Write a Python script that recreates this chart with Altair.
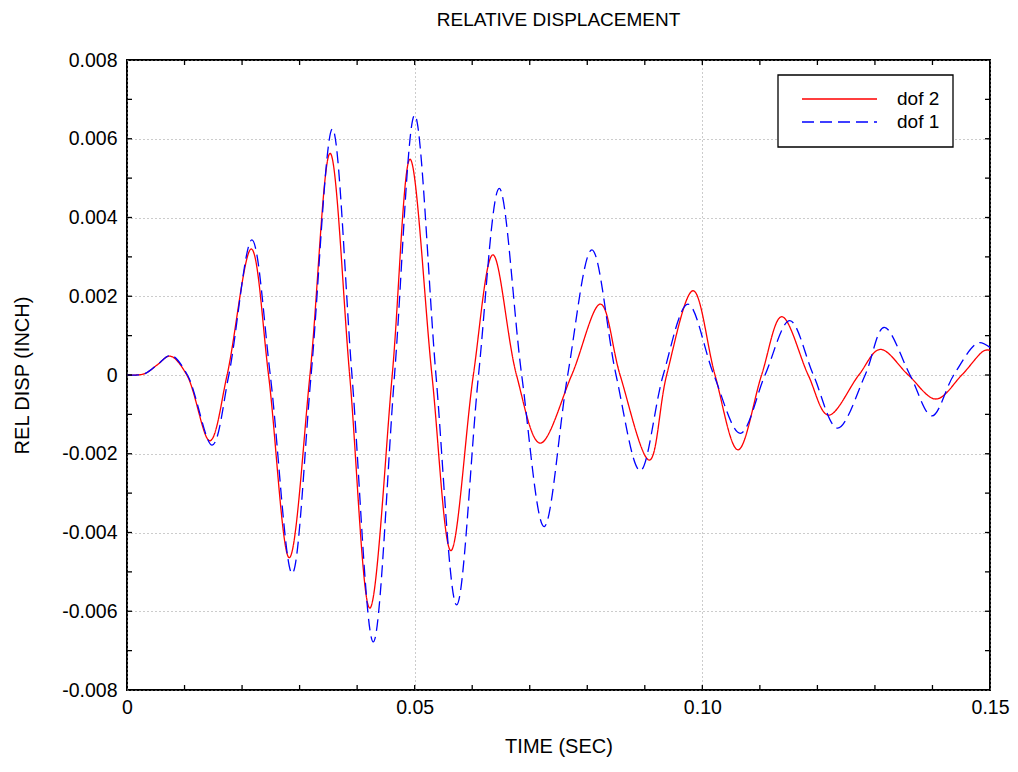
import altair as alt
import pandas as pd

# ---- data ----
t_dof2 = [0.0, 0.003, 0.0052, 0.0075, 0.0104, 0.0144, 0.0174, 0.0216, 0.0246, 0.0282,
          0.0318, 0.0353, 0.0387, 0.0422, 0.0461, 0.0492, 0.0530, 0.0563, 0.0602, 0.0636,
          0.0677, 0.0718, 0.0773, 0.0823, 0.0857, 0.0908, 0.0938, 0.0984, 0.1022, 0.1062,
          0.1103, 0.1138, 0.1184, 0.1219, 0.1272, 0.1309, 0.1358, 0.1406, 0.1451, 0.1490, 0.15]
y_dof2 = [0.0, 0.00003, 0.00025, 0.00048, 0.0, -0.00167, 0.0, 0.0032, 0.0, -0.00464,
          0.0, 0.00563, 0.0, -0.00592, 0.0, 0.00548, 0.0, -0.00446, 0.0, 0.00305,
          0.0, -0.00173, 0.0, 0.0018, 0.0, -0.00216, 0.0, 0.00214, 0.0, -0.0019,
          0.0, 0.00148, 0.0, -0.00102, 0.0, 0.00065, 0.0, -0.00061, 0.0, 0.00062, 0.00063]

t_dof1 = [0.0, 0.003, 0.0052, 0.0076, 0.0105, 0.0148, 0.0177, 0.0217, 0.0249, 0.0287,
          0.0320, 0.0357, 0.0391, 0.0428, 0.0465, 0.0500, 0.0537, 0.0573, 0.0611, 0.0647,
          0.0686, 0.0725, 0.0766, 0.0808, 0.0850, 0.0892, 0.0932, 0.0975, 0.1020, 0.1066,
          0.1109, 0.1152, 0.1193, 0.1235, 0.1283, 0.1316, 0.1361, 0.1399, 0.1437, 0.1480, 0.15]
y_dof1 = [0.0, 0.00003, 0.00025, 0.0005, 0.0, -0.00178, 0.0, 0.00343, 0.0, -0.00504,
          0.0, 0.00625, 0.0, -0.00678, 0.0, 0.0066, 0.0, -0.00584, 0.0, 0.00474,
          0.0, -0.00385, 0.0, 0.00318, 0.0, -0.00243, 0.0, 0.0018, 0.0, -0.00148,
          0.0, 0.00138, 0.0, -0.00135, 0.0, 0.00121, 0.0, -0.00104, 0.0, 0.00082, 0.0007]

series_names = ["dof 2", "dof 1"]
series_colors = ["#ff0000", "#0000ff"]
series_dash = [[1, 0], [12, 6]]

x_label_values = [0.0, 0.05, 0.10, 0.15]
y_label_values = [-0.008, -0.006, -0.004, -0.002, 0.0, 0.002, 0.004, 0.006, 0.008]
x_tick_values = [0.01, 0.02, 0.03, 0.04, 0.05, 0.06, 0.07, 0.08, 0.09, 0.10,
                 0.11, 0.12, 0.13, 0.14]
y_tick_values = [-0.007, -0.006, -0.005, -0.004, -0.003, -0.002, -0.001, 0.0,
                 0.001, 0.002, 0.003, 0.004, 0.005, 0.006, 0.007]

title_text = "RELATIVE DISPLACEMENT"
x_title = "TIME (SEC)"
y_title = "REL DISP (INCH)"

# ---- layout ----
W, H = 863, 630
FONT = "Liberation Sans"
TICK = 5
LABEL_FS = 19.5
TITLE_FS = 20

df2 = pd.DataFrame({"t": t_dof2, "disp": y_dof2, "series": series_names[0]})
df1 = pd.DataFrame({"t": t_dof1, "disp": y_dof1, "series": series_names[1]})

xs = alt.Scale(domain=[0, 0.15], nice=False, zero=False)
ys = alt.Scale(domain=[-0.008, 0.008], nice=False, zero=False)
cs = alt.Scale(domain=series_names, range=series_colors)
ds = alt.Scale(domain=series_names, range=series_dash)

x_axis = alt.Axis(values=x_label_values, title=x_title, domain=False, ticks=False,
                  grid=True, gridDash=[1, 3], gridColor="#999999", gridWidth=1,
                  labelExpr="datum.value == 0 ? '0' : format(datum.value, '.2f')",
                  labelFont=FONT, labelFontSize=LABEL_FS, labelColor="black", labelPadding=8,
                  titleFont=FONT, titleFontSize=TITLE_FS, titleFontWeight="normal",
                  titleColor="black", titlePadding=20, labelFlush=False)
y_axis = alt.Axis(values=y_label_values, title=y_title, domain=False, ticks=False,
                  grid=True, gridDash=[1, 3], gridColor="#999999", gridWidth=1,
                  labelExpr="datum.value == 0 ? '0' : (datum.value < 0 ? '-' : '') + format(abs(datum.value), '.3f')",
                  labelFont=FONT, labelFontSize=LABEL_FS, labelColor="black", labelPadding=10,
                  titleFont=FONT, titleFontSize=TITLE_FS, titleFontWeight="normal",
                  titleColor="black", titlePadding=29, labelFlush=False)


def line_layer(df):
    return alt.Chart(df).mark_line(interpolate="catmull-rom", strokeWidth=1.3, clip=True).encode(
        x=alt.X("t:Q", scale=xs, axis=x_axis),
        y=alt.Y("disp:Q", scale=ys, axis=y_axis),
        color=alt.Color("series:N", scale=cs, legend=None),
        strokeDash=alt.StrokeDash("series:N", scale=ds, legend=None),
    )


red = line_layer(df2)
blue = line_layer(df1)

dfx = pd.DataFrame({"t": x_tick_values})
dfy = pd.DataFrame({"disp": y_tick_values})
tick_style = dict(color="black", strokeWidth=1.3)
xt_bottom = alt.Chart(dfx).mark_rule(**tick_style).encode(
    x=alt.X("t:Q", scale=xs, axis=x_axis), y=alt.value(H), y2=alt.value(H - TICK))
xt_top = alt.Chart(dfx).mark_rule(**tick_style).encode(
    x=alt.X("t:Q", scale=xs, axis=x_axis), y=alt.value(0), y2=alt.value(TICK))
yt_left = alt.Chart(dfy).mark_rule(**tick_style).encode(
    y=alt.Y("disp:Q", scale=ys, axis=y_axis), x=alt.value(0), x2=alt.value(TICK))
yt_right = alt.Chart(dfy).mark_rule(**tick_style).encode(
    y=alt.Y("disp:Q", scale=ys, axis=y_axis), x=alt.value(W), x2=alt.value(W - TICK))

# ---- legend (box, samples, labels) ----
LX0, LX1, LY0, LY1 = 651, 826, 15, 87
leg_df = pd.DataFrame({"series": series_names})
legend_box = alt.Chart(leg_df.head(1)).mark_rect(fill="white", stroke="black", strokeWidth=1.3).encode(
    x=alt.value(LX0), x2=alt.value(LX1), y=alt.value(LY0), y2=alt.value(LY1))
leg_rows = []
row_y = [39, 62]
for i, name in enumerate(series_names):
    d = leg_df.iloc[[i]]
    leg_rows.append(alt.Chart(d).mark_rule(strokeWidth=1.3, strokeDash=series_dash[i],
                                           color=series_colors[i]).encode(
        x=alt.value(675), x2=alt.value(750), y=alt.value(row_y[i])))
    leg_rows.append(alt.Chart(d).mark_text(align="left", baseline="middle", font=FONT,
                                           fontSize=19, color="black").encode(
        text="series:N", x=alt.value(770), y=alt.value(row_y[i])))

chart = alt.layer(red, blue, xt_bottom, xt_top, yt_left, yt_right, legend_box, *leg_rows).properties(
    width=W, height=H,
    title=alt.TitleParams(title_text, font=FONT, fontSize=19, fontWeight="normal",
                          color="black", anchor="middle", offset=20),
    autosize=alt.AutoSizeParams(type="none"),
    padding={"left": 119, "top": 52, "right": 20, "bottom": 70},
).configure(background="white", view=alt.ViewConfig(stroke="black", strokeWidth=2))

chart.save("out.html", embed_options={"renderer": "svg", "actions": False})
